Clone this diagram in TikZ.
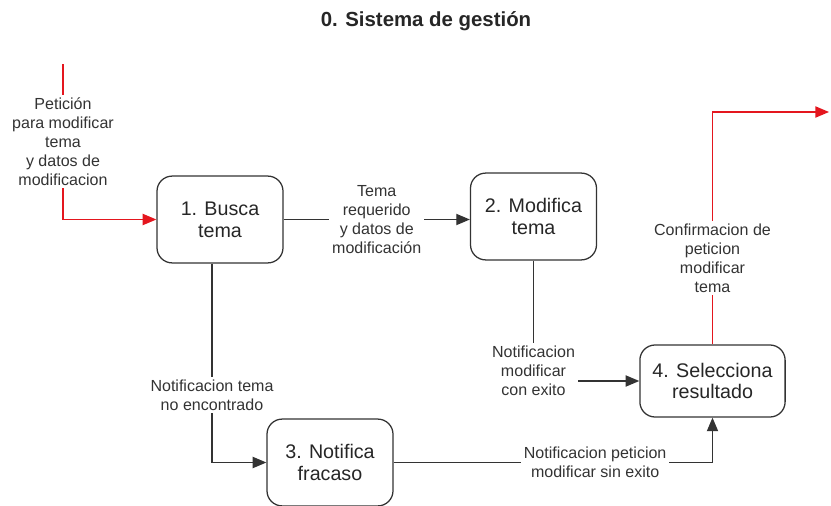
\documentclass[tikz,border=0pt]{standalone}
\usepackage{fontspec}
\setmainfont{Liberation Sans}
\usetikzlibrary{arrows.meta, positioning}
\definecolor{flowgray}{HTML}{333333}
\definecolor{flowred}{HTML}{E4161E}

\begin{document}
\begin{tikzpicture}[x=0.025cm, y=-0.025cm, >={Triangle[length=3.4mm, width=2.8mm]},
  proc/.style={rectangle, rounded corners=0.38cm, draw=flowgray, line width=0.9pt,
    minimum width=3.15cm, minimum height=2.17cm, align=center, text=black!85,
    font=\fontsize{14}{15.5}\selectfont},
  flowlbl/.style={fill=white, inner sep=2pt, align=center, text=flowgray,
    font=\fontsize{11.4}{13.4}\selectfont},
  flow/.style={draw=flowgray, line width=0.9pt},
  redflow/.style={draw=flowred, line width=0.9pt}]
  \useasboundingbox (0,0) rectangle (831,506);

  \node[font=\fontsize{14.5}{16}\selectfont\bfseries, text=black!85] (title) at (426,21) {0. Sistema de gestión};

  \node[proc] (busca)      at (220,219.5) {1. Busca\\tema};
  \node[proc] (modifica)   at (533.5,216.5) {2. Modifica\\tema};
  \node[proc] (notifica)   at (330,462.5) {3. Notifica\\fracaso};
  \node[proc, minimum width=3.63cm, minimum height=1.8cm] (selecciona) at (712.5,381) {4. Selecciona\\resultado};

  \coordinate (entrada) at (63,64);
  \coordinate (salida)  at (829,112);

  \draw[redflow, ->] (entrada) |- node[flowlbl, pos=0.25] {Petición\\para modificar\\tema\\y datos de\\modificacion} (busca.west);
  \draw[flow, ->] (busca.east) -- node[flowlbl, pos=0.5] {Tema\\requerido\\y datos de\\modificación} (busca.east -| modifica.west);
  \draw[flow, ->] (modifica.south) |- node[flowlbl, pos=0.5, yshift=0.25cm] {Notificacion\\modificar\\con exito} (selecciona.west);
  \draw[flow, ->] ([xshift=-0.2cm]busca.south) |- node[flowlbl, pos=0.33] {Notificacion tema\\no encontrado} (notifica.west);
  \draw[flow, ->] (notifica.east) -| node[flowlbl, pos=0.316] {Notificacion peticion\\modificar sin exito} (selecciona.south);
  \draw[redflow, ->] (selecciona.north) |- node[flowlbl, pos=0.185] {Confirmacion de\\peticion\\modificar\\tema} (salida);
\end{tikzpicture}
\end{document}
